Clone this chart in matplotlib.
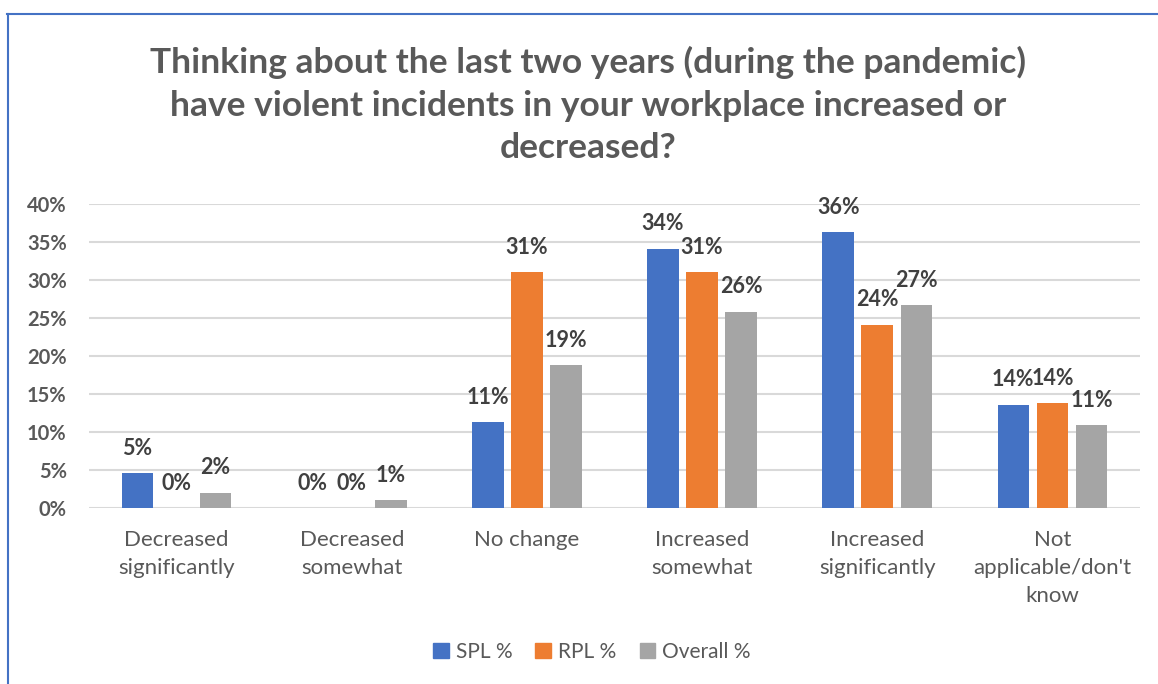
import numpy as np
import matplotlib.pyplot as plt
from matplotlib.lines import Line2D
from matplotlib.patches import Patch

plt.rcParams['font.family'] = ['Lato', 'DejaVu Sans']

categories = ['Decreased\nsignificantly', 'Decreased\nsomewhat', 'No change',
              'Increased\nsomewhat', 'Increased\nsignificantly', "Not\napplicable/don't\nknow"]
spl = [4.6, 0.0, 11.3, 34.1, 36.3, 13.6]
rpl = [0.0, 0.0, 31.0, 31.0, 24.1, 13.8]
overall = [2.0, 1.0, 18.8, 25.8, 26.7, 10.9]
series_names = ['SPL %', 'RPL %', 'Overall %']
colors = ['#4472C4', '#ED7D31', '#A5A5A5']

title = ('Thinking about the last two years (during the pandemic)\n'
         'have violent incidents in your workplace increased or\n'
         'decreased?')

fig = plt.figure(figsize=(11.58, 6.84), dpi=100)
ax = fig.add_axes([89 / 1158, 1 - 508 / 684, (1140 - 89) / 1158, (508 - 204) / 684])

x = np.arange(len(categories))
width = 0.18
step = 0.223
for i, (vals, col, name) in enumerate(zip([spl, rpl, overall], colors, series_names)):
    pos = x + (i - 1) * step
    ax.bar(pos, vals, width=width, color=col, label=name, zorder=3)
    for px, v in zip(pos, vals):
        ax.annotate(f'{v:.0f}%', (px, v), xytext=(0, 18), textcoords='offset points',
                    ha='center', va='center', fontsize=15.5, fontweight='bold',
                    color='#404040')

ax.set_xlim(-0.5, len(categories) - 0.5)
ax.set_ylim(0, 40)
ax.set_yticks(np.arange(0, 41, 5))
ax.set_yticklabels([f'{t}%' for t in range(0, 41, 5)], fontsize=14.5,
                   fontweight='bold', color='#595959')
ax.set_xticks(x)
ax.set_xticklabels(categories, fontsize=16, color='#595959', linespacing=1.5)
ax.tick_params(axis='both', length=0)
ax.tick_params(axis='x', pad=16)
ax.tick_params(axis='y', pad=16)
ax.grid(axis='y', color='#D9D9D9', linewidth=1.5, zorder=0)
for s in ax.spines.values():
    s.set_visible(False)

fig.text(0.508, 1 - 105 / 684, title, ha='center', va='center', fontsize=25.5,
         fontweight='bold', color='#595959', linespacing=1.42)

handles = [Patch(color=c) for c in colors]
fig.legend(handles, series_names, loc='center', bbox_to_anchor=(592 / 1158, 1 - 652 / 684),
           ncol=3, frameon=False, fontsize=15, handlelength=0.75, handleheight=0.75,
           columnspacing=1.1, handletextpad=0.35, labelcolor='#595959')

# chart frame edges (top and left)
fig.add_artist(Line2D([7 / 1158, 1], [1 - 14 / 684, 1 - 14 / 684], color='#4472C4', lw=1.5))
fig.add_artist(Line2D([8 / 1158, 8 / 1158], [0, 1 - 14 / 684], color='#4472C4', lw=1.5))

fig.savefig('out.png', dpi=100)
